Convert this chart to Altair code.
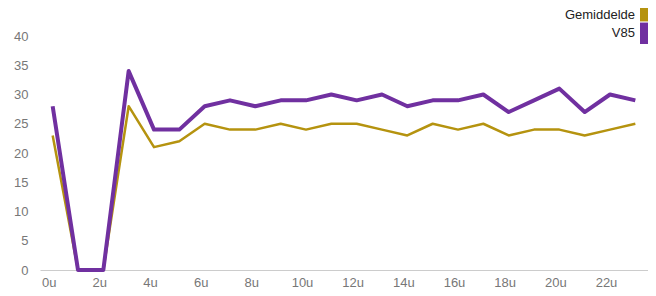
import altair as alt
import pandas as pd

hours = list(range(24))
gemiddelde = [23, 0, 0, 28, 21, 22, 25, 24, 24, 25, 24, 25, 25, 24, 23, 25, 24, 25, 23, 24, 24, 23, 24, 25]
v85 = [28, 0, 0, 34, 24, 24, 28, 29, 28, 29, 29, 30, 29, 30, 28, 29, 29, 30, 27, 29, 31, 27, 30, 29]
series = ["Gemiddelde", "V85"]
colors = ["#b5930f", "#7030a0"]
x_ticks = list(range(0, 24, 2))
y_ticks = list(range(0, 41, 5))

df = pd.DataFrame({
    "uur": hours * 2,
    "waarde": gemiddelde + v85,
    "reeks": [series[0]] * len(hours) + [series[1]] * len(hours),
})
leg = pd.DataFrame({"reeks": series})

FONT = "Liberation Sans"
W, H = 608, 234

color = alt.Color("reeks:N", scale=alt.Scale(domain=series, range=colors), legend=None)

x = alt.X("uur:Q", scale=alt.Scale(domain=[-0.5, 23.5], nice=False, zero=False),
          axis=alt.Axis(values=x_ticks, labelExpr="datum.value + 'u'", grid=False, ticks=False,
                        domainColor="#cccccc", domainWidth=1, labelColor="#777777", labelFontSize=13,
                        labelFont=FONT, labelPadding=6, labelOffset=-4, title=None))
y = alt.Y("waarde:Q", scale=alt.Scale(domain=[0, 40], nice=False),
          axis=alt.Axis(values=y_ticks, grid=False, ticks=False, domain=False, labelColor="#777777",
                        labelFontSize=13, labelFont=FONT, labelPadding=12, title=None))

base = alt.Chart(df).encode(x=x, y=y, color=color)
line_g = base.mark_line(strokeWidth=2.5, strokeJoin="round").transform_filter(alt.datum.reeks == series[0])
line_v = base.mark_line(strokeWidth=4, strokeJoin="round").transform_filter(alt.datum.reeks == series[1])

ly_rect = alt.Y("reeks:N", scale=alt.Scale(type="band", domain=series, range=[-36, 8], paddingInner=0.05,
                                            paddingOuter=0), axis=None)
ly_text = alt.Y("reeks:N", scale=alt.Scale(type="band", domain=series, range=[-30.5, 5.5], paddingInner=0,
                                            paddingOuter=0), axis=None)
leg_rect = alt.Chart(leg).mark_rect().encode(
    x=alt.value(600), x2=alt.value(612), y=ly_rect, color=color)
leg_text = alt.Chart(leg).mark_text(align="right", baseline="middle", fontSize=13, font=FONT,
                                    color="#222222").encode(
    x=alt.value(595), y=ly_text, text="reeks:N")

chart = alt.layer(line_g, line_v, leg_rect, leg_text).resolve_scale(y="independent").properties(
    width=W, height=H,
    autosize=alt.AutoSizeParams(type="none"),
    padding={"left": 32, "top": 28, "right": 0, "bottom": 18},
).configure_view(stroke=None)

chart.save("out.html", embed_options={"renderer": "svg", "actions": False})
